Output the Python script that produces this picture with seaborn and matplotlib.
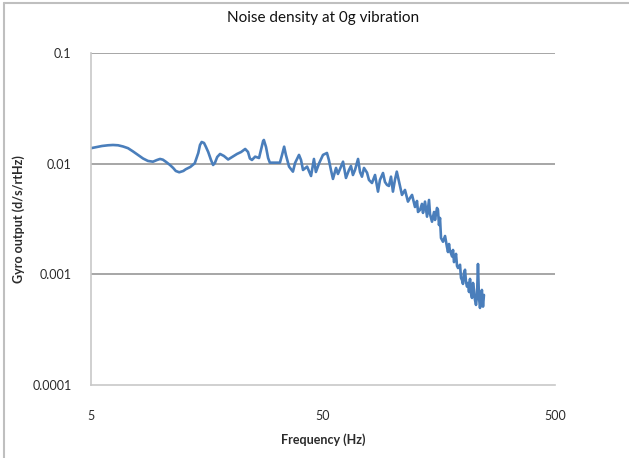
import matplotlib
matplotlib.use("Agg")
import matplotlib.pyplot as plt
import matplotlib.ticker as mticker
from matplotlib.lines import Line2D
import pandas as pd
import seaborn as sns

# Gyro noise spectral density measured with no vibration applied
frequency_hz = [
    5.00, 5.25, 5.58, 5.92, 6.22, 6.54, 6.87, 7.22, 7.59, 7.97,
    8.38, 8.80, 9.25, 9.63, 9.92, 10.2, 10.5, 10.95, 11.3, 11.6,
    12.0, 12.5, 12.8, 13.4, 14.0, 14.5, 14.75, 15.0, 15.35, 15.65,
    16.0, 16.45, 16.8, 17.1, 17.5, 18.0, 18.7, 19.5, 20.3, 21.3,
    22.2, 23.1, 23.75, 24.2, 24.7, 25.5, 26.5, 27.0, 27.6, 27.8,
    28.4, 29.0, 29.5, 31.7, 32.6, 33.3, 34.0, 34.6, 35.7, 37.1,
    37.9, 39.4, 40.2, 41.0, 42.7, 44.4, 45.7, 46.6, 48.1, 50.0,
    52.0, 53.0, 54.1, 55.2, 56.9, 58.0, 59.8, 61.0, 62.8, 64.7,
    66.0, 67.3, 68.7, 70.8, 72.2, 73.6, 75.1, 77.4, 78.9, 81.3,
    83.8, 86.3, 88.0, 90.7, 92.5, 94.4, 96.2, 98.2, 100.1, 102.1,
    104.0, 107.3, 109.5, 112.8, 116.2, 118.6, 121.0, 124.6, 127.1, 128.4,
    131.0, 133.5, 134.9, 137.6, 140.4, 143.2, 144.6, 147.5, 150.5, 152.0,
    155.0, 156.5, 158.1, 159.7, 161.3, 164.5, 167.9, 171.0, 172.9, 174.6,
    176.0, 180.0, 181.7, 183.5, 185.0, 187.2, 189.1, 191.0, 194.8, 196.7,
    198.6, 200.6, 202.6, 204.7, 206.7, 208.8, 210.8, 213.0, 215.1, 217.0,
    219.4, 221.6, 223.8, 226.0, 228.3, 230.6, 232.8, 235.0, 237.5, 239.9,
    242.0, 244.7, 247.0,
]
noise_density = [
    0.0138, 0.01409, 0.01445, 0.01466, 0.01475, 0.01466, 0.0143, 0.0138, 0.01289, 0.0120,
    0.01114, 0.01058, 0.01042, 0.0108, 0.01103, 0.01087, 0.01042, 0.00973, 0.00915, 0.00859,
    0.00836, 0.00859, 0.0089, 0.00934, 0.01008, 0.01249, 0.01475, 0.0157, 0.01538, 0.01415,
    0.01276, 0.0108, 0.00973, 0.01015, 0.01149, 0.01224, 0.01174, 0.01091, 0.01149, 0.01224,
    0.01276, 0.01358, 0.01276, 0.01114, 0.0108, 0.01157, 0.01125, 0.0133, 0.01604, 0.01637,
    0.01415, 0.01125, 0.01021, 0.01021, 0.01021, 0.0120, 0.01424, 0.0120, 0.0094, 0.00847,
    0.01015, 0.0120, 0.0108, 0.00877, 0.0094, 0.00774, 0.01103, 0.00841, 0.01008, 0.0120,
    0.01249, 0.0108, 0.00877, 0.00728, 0.00915, 0.00807, 0.0094, 0.01042, 0.00743, 0.00877,
    0.00953, 0.0079, 0.00877, 0.01103, 0.00841, 0.00763, 0.00915, 0.00829, 0.00713, 0.00669,
    0.0079, 0.00559, 0.00713, 0.00824, 0.00683, 0.00642, 0.00629, 0.00763, 0.00559, 0.00713,
    0.00847, 0.00629, 0.00522, 0.00579, 0.00454, 0.0049, 0.00522, 0.00406, 0.0046, 0.00366,
    0.00382, 0.00433, 0.00359, 0.00454, 0.00332, 0.0047, 0.00351, 0.00299, 0.00366, 0.0031,
    0.00398, 0.00382, 0.00279, 0.00323, 0.00213, 0.00197, 0.00222, 0.00178, 0.00159, 0.00188,
    0.00166, 0.00145, 0.00166, 0.00129, 0.00135, 0.00153, 0.00119, 0.00114, 0.00122, 0.000928,
    0.00089, 0.000819, 0.00103, 0.0011, 0.000853, 0.000774, 0.000836, 0.000693, 0.000909, 0.000679,
    0.000612, 0.000836, 0.000723, 0.000587, 0.000529, 0.000638, 0.00124, 0.000629, 0.000497, 0.000599,
    0.000723, 0.000511, 0.000651,
]

x_ticks = [5, 50, 500]
x_tick_labels = ["5", "50", "500"]
y_ticks = [0.0001, 0.001, 0.01, 0.1]
y_tick_labels = ["0.0001", "0.001", "0.01", "0.1"]

sns.set_theme(style="white")
plt.rcParams["font.family"] = ["Lato", "DejaVu Sans"]

df = pd.DataFrame({"Frequency (Hz)": frequency_hz, "Noise": noise_density})

fig = plt.figure(figsize=(6.29, 4.58), dpi=100)
ax = fig.add_axes([91 / 629, 1 - 385 / 458, (555 - 91) / 629, (385 - 53) / 458])

sns.lineplot(data=df, x="Frequency (Hz)", y="Noise", ax=ax, estimator=None,
             sort=False, color="#4A7EBB", linewidth=1.9)

ax.set_xscale("log")
ax.set_yscale("log")
ax.set_xlim(5, 500)
ax.set_ylim(0.0001, 0.1)

ax.xaxis.set_major_locator(mticker.FixedLocator(x_ticks))
ax.xaxis.set_major_formatter(mticker.FixedFormatter(x_tick_labels))
ax.xaxis.set_minor_locator(mticker.NullLocator())
ax.yaxis.set_major_locator(mticker.FixedLocator(y_ticks))
ax.yaxis.set_major_formatter(mticker.FixedFormatter(y_tick_labels))
ax.yaxis.set_minor_locator(mticker.NullLocator())

# horizontal gridlines only, at each decade above the floor
for yv in y_ticks[1:]:
    ax.axhline(yv, color="#A6A6A6", linewidth=1.4, zorder=0)

for side in ("top", "right"):
    ax.spines[side].set_visible(False)
for side in ("left", "bottom"):
    ax.spines[side].set_color("#C8C8C8")
    ax.spines[side].set_linewidth(1.2)

ax.tick_params(axis="both", length=0, labelsize=9, colors="#2b2b2b")
ax.tick_params(axis="y", pad=14)
ax.tick_params(axis="x", pad=18)

ax.set_xlabel("Frequency (Hz)", fontsize=9, fontweight="bold", color="#2b2b2b", labelpad=8)
ax.set_ylabel("Gyro output (d/s/rtHz)", fontsize=9, fontweight="bold", color="#2b2b2b", labelpad=5)
ax.set_title("Noise density at 0g vibration", fontsize=11, color="#111111", pad=22)

# chart-area frame: top and left edges
fig.add_artist(Line2D([4 / 629, 1.0], [1 - 3 / 458, 1 - 3 / 458], color="#BFBFBF",
                      linewidth=1.5, transform=fig.transFigure))
fig.add_artist(Line2D([4 / 629, 4 / 629], [0.0, 1 - 3 / 458], color="#BFBFBF",
                      linewidth=1.5, transform=fig.transFigure))

fig.savefig("out.png", dpi=100)
